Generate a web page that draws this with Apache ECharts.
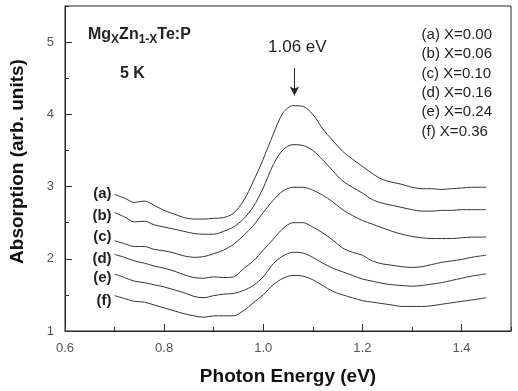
<!DOCTYPE html>
<html>
<head>
<meta charset="utf-8">
<script src="https://cdn.jsdelivr.net/npm/echarts@6/dist/echarts.min.js"></script>
<style>
  html, body { margin: 0; padding: 0; background: #fff; }
  #chart { width: 518px; height: 391px; }
</style>
</head>
<body>
<div id="chart"></div>
<script>
// photon energy (eV), shared by all six spectra
const energy = [0.70, 0.72, 0.74, 0.76, 0.78, 0.80, 0.82, 0.84, 0.86, 0.88, 0.90, 0.92, 0.94, 0.96,
  0.98, 1.00, 1.02, 1.04, 1.06, 1.08, 1.10, 1.12, 1.14, 1.16, 1.18, 1.20, 1.22, 1.24, 1.26, 1.28,
  1.30, 1.32, 1.34, 1.36, 1.38, 1.40, 1.42, 1.45];

// absorption (arb. units), offset curves
const curveA = [2.89, 2.84, 2.78, 2.80, 2.74, 2.67, 2.62, 2.57, 2.55, 2.55, 2.56, 2.57, 2.63, 2.80,
  3.07, 3.38, 3.72, 4.02, 4.12, 4.11, 4.00, 3.80, 3.64, 3.49, 3.38, 3.28, 3.18, 3.10, 3.06, 3.03,
  2.99, 2.97, 2.97, 2.96, 2.97, 2.98, 2.99, 2.99];
const curveB = [2.64, 2.58, 2.51, 2.52, 2.47, 2.44, 2.41, 2.38, 2.35, 2.34, 2.34, 2.38, 2.44, 2.55,
  2.72, 2.98, 3.30, 3.51, 3.58, 3.57, 3.50, 3.37, 3.22, 3.08, 2.99, 2.91, 2.82, 2.77, 2.74, 2.71,
  2.68, 2.66, 2.66, 2.67, 2.67, 2.68, 2.68, 2.68];
const curveC = [2.25, 2.21, 2.17, 2.17, 2.13, 2.11, 2.08, 2.04, 2.02, 2.03, 2.07, 2.12, 2.20, 2.32,
  2.46, 2.64, 2.81, 2.94, 2.99, 2.99, 2.95, 2.88, 2.79, 2.68, 2.60, 2.53, 2.48, 2.43, 2.38, 2.34,
  2.31, 2.29, 2.28, 2.28, 2.28, 2.29, 2.30, 2.30];
const curveD = [2.06, 2.02, 1.97, 1.94, 1.90, 1.87, 1.83, 1.78, 1.74, 1.73, 1.75, 1.74, 1.75, 1.86,
  1.97, 2.12, 2.27, 2.42, 2.50, 2.50, 2.44, 2.36, 2.26, 2.15, 2.09, 2.05, 1.97, 1.93, 1.91, 1.89,
  1.88, 1.89, 1.92, 1.95, 1.97, 1.99, 2.02, 2.05];
const curveE = [1.79, 1.74, 1.69, 1.67, 1.64, 1.61, 1.57, 1.53, 1.48, 1.46, 1.49, 1.51, 1.52, 1.56,
  1.63, 1.75, 1.93, 2.04, 2.09, 2.08, 2.02, 1.94, 1.87, 1.82, 1.77, 1.72, 1.69, 1.66, 1.64, 1.63,
  1.62, 1.63, 1.65, 1.67, 1.70, 1.73, 1.76, 1.79];
const curveF = [1.49, 1.45, 1.41, 1.40, 1.36, 1.32, 1.28, 1.24, 1.21, 1.19, 1.21, 1.21, 1.21, 1.28,
  1.39, 1.50, 1.64, 1.73, 1.77, 1.76, 1.71, 1.63, 1.55, 1.50, 1.46, 1.42, 1.40, 1.38, 1.36, 1.34,
  1.34, 1.34, 1.35, 1.37, 1.39, 1.41, 1.43, 1.46];

const curves = [curveA, curveB, curveC, curveD, curveE, curveF];
const curveTags = ['(a)', '(b)', '(c)', '(d)', '(e)', '(f)'];
const tagShift = [-1, 3, -4, 4, 4, 5];
const legendLines = ['(a) X=0.00', '(b) X=0.06', '(c) X=0.10', '(d) X=0.16', '(e) X=0.24', '(f) X=0.36'];
const peakEnergy = 1.063;

const font = 'Liberation Sans, Arial, sans-serif';
const ink = '#222';

const chart = echarts.init(document.getElementById('chart'), null, { renderer: 'canvas' });

const series = curves.map((c, i) => ({
  type: 'line',
  xAxisIndex: 0,
  yAxisIndex: 0,
  data: energy.map((x, k) => [x, c[k]]),
  showSymbol: false,
  smooth: 0.3,
  lineStyle: { color: '#333', width: 1 },
  silent: true,
  markPoint: {
    symbol: 'circle',
    symbolSize: 0,
    data: [{ coord: [energy[0], c[0]] }],
    label: {
      show: true,
      position: 'left',
      distance: 3,
      offset: [0, tagShift[i]],
      formatter: curveTags[i],
      color: ink,
      fontFamily: font,
      fontWeight: 'bold',
      fontSize: 15,
    },
  },
}));

// arrow marking the peak
series.push({
  type: 'line',
  data: [],
  markLine: {
    silent: true,
    symbol: ['none', 'arrow'],
    symbolSize: [7, 9],
    label: { show: false },
    lineStyle: { color: ink, width: 1, type: 'solid' },
    data: [[{ coord: [peakEnergy, 4.64] }, { coord: [peakEnergy, 4.26] }]],
  },
});

const tickLabel = { color: '#555', fontFamily: font, fontSize: 13 };

chart.setOption({
  animation: false,
  grid: {
    left: 64,
    top: 6,
    right: 7,
    bottom: 59,
    show: true,
    borderColor: ink,
    borderWidth: 1,
  },
  xAxis: [
    {
      type: 'value',
      min: 0.6,
      max: 1.5,
      interval: 0.2,
      name: 'Photon Energy (eV)',
      nameLocation: 'middle',
      nameGap: 36,
      nameTextStyle: { color: '#111', fontFamily: font, fontSize: 19, fontWeight: 'bold' },
      axisLine: { show: true, lineStyle: { color: ink, width: 1 } },
      axisTick: { inside: true, length: 7, lineStyle: { color: '#333' } },
      axisLabel: Object.assign({ margin: 11, showMaxLabel: false, formatter: v => v.toFixed(1) }, tickLabel),
      splitLine: { show: false },
    },
    {
      type: 'value',
      position: 'bottom',
      min: 0.6,
      max: 1.5,
      interval: 0.1,
      axisLine: { show: false },
      axisTick: { inside: true, length: 4, lineStyle: { color: '#333' } },
      axisLabel: { show: false },
      splitLine: { show: false },
    },
  ],
  yAxis: [
    {
      type: 'value',
      min: 1,
      max: 5.5,
      interval: 1,
      name: 'Absorption (arb. units)',
      nameLocation: 'middle',
      nameGap: 38,
      nameTextStyle: { color: '#111', fontFamily: font, fontSize: 19, fontWeight: 'bold', padding: [0, 0, 0, 14] },
      axisLine: { show: true, lineStyle: { color: ink, width: 1 } },
      axisTick: { inside: true, length: 7, lineStyle: { color: '#333' } },
      axisLabel: Object.assign({ margin: 11, showMaxLabel: false }, tickLabel),
      splitLine: { show: false },
    },
    {
      type: 'value',
      position: 'left',
      min: 1,
      max: 5.5,
      interval: 0.5,
      axisLine: { show: false },
      axisTick: { inside: true, length: 4, lineStyle: { color: '#333' } },
      axisLabel: { show: false },
      splitLine: { show: false },
    },
  ],
  series: series,
  graphic: [
    {
      type: 'text',
      left: 88,
      top: 27,
      style: {
        text: 'Mg{s|X}Zn{s|1-X}Te:P',
        fill: ink,
        font: 'bold 16px ' + font,
        rich: {
          s: { fontSize: 12, fontWeight: 'bold', fontFamily: font, fill: ink, padding: [9, 0, 0, 0] },
        },
      },
    },
    {
      type: 'text',
      left: 120,
      top: 66,
      style: { text: '5 K', fill: ink, font: 'bold 16px ' + font },
    },
    {
      type: 'text',
      left: 268,
      top: 39,
      style: { text: '1.06 eV', fill: ink, font: '17px ' + font },
    },
    {
      type: 'text',
      right: 26,
      top: 25,
      style: {
        text: legendLines.join('\n'),
        fill: ink,
        font: '15px ' + font,
        align: 'right',
        lineHeight: 19.4,
      },
    },
  ],
});
</script>
</body>
</html>
